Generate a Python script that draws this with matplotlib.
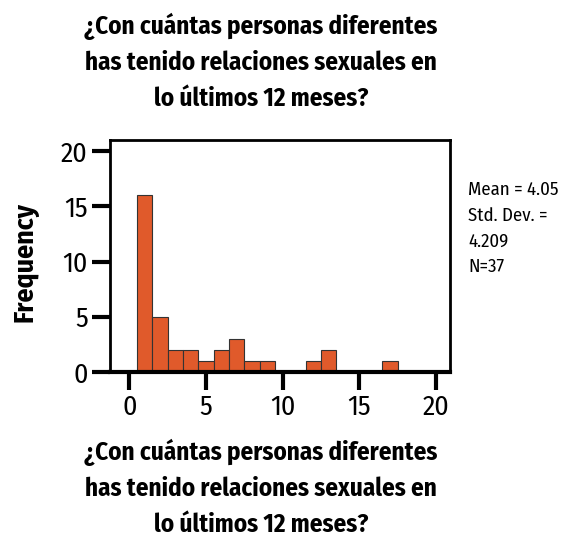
import matplotlib
matplotlib.use("Agg")
import matplotlib.pyplot as plt

plt.rcParams["font.family"] = ["Fira Sans Condensed", "DejaVu Sans"]

# histogram counts (bin width 1, centred on integers)
valores = [1, 2, 3, 4, 5, 6, 7, 8, 9, 10, 11, 12, 13, 14, 15, 16, 17]
frecuencias = [16, 5, 2, 2, 1, 2, 3, 1, 1, 0, 0, 1, 2, 0, 0, 0, 1]
xticks = [0, 5, 10, 15, 20]
yticks = [0, 5, 10, 15, 20]
stats = ["Mean = 4.05", "Std. Dev. =", "4.209", "N=37"]

titulo = ("¿Con cuántas personas diferentes\n"
          "has tenido relaciones sexuales en\n"
          "lo últimos 12 meses?")

fig = plt.figure(figsize=(5.64, 5.40), dpi=100)
ax = fig.add_axes([110 / 564, 1 - 372 / 540, 340 / 564, 232 / 540])

ax.bar(valores, frecuencias, width=1.0, color="#E05A2B",
       edgecolor="#333333", linewidth=0.8, zorder=2)

ax.set_xlim(-1.26, 20.9)
ax.set_ylim(0, 21)
ax.set_xticks(xticks)
ax.set_yticks(yticks)
ax.tick_params(axis="both", length=13, width=3, labelsize=20, pad=3, color="black")

for s in ["left", "top", "right"]:
    ax.spines[s].set_linewidth(2)
ax.spines["bottom"].set_linewidth(3)

fig.text(261 / 564, 1 - 62 / 540, titulo, ha="center", va="center",
         fontsize=18, fontweight="bold", linespacing=1.57)
fig.text(261 / 564, 1 - 488 / 540, titulo, ha="center", va="center",
         fontsize=18, fontweight="bold", linespacing=1.57)
fig.text(25 / 564, 1 - 262 / 540, "Frequency", rotation=90, ha="center",
         va="center", fontsize=20, fontweight="bold")

for i, t in enumerate(stats):
    fig.text(468 / 564, 1 - (190 + 25.7 * i) / 540, t, ha="left", va="center",
             fontsize=13.5)

fig.savefig("out.png", dpi=100)
